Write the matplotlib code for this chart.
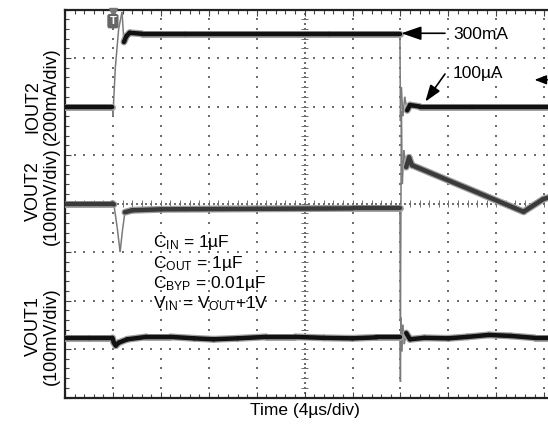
import numpy as np
import matplotlib
matplotlib.use('Agg')
import matplotlib.pyplot as plt
from matplotlib.collections import LineCollection
from matplotlib.ticker import MultipleLocator, NullFormatter

plt.rcParams['font.family'] = ['Liberation Sans', 'DejaVu Sans']
plt.rcParams['mathtext.fontset'] = 'custom'
plt.rcParams['mathtext.rm'] = 'Liberation Sans'
plt.rcParams['mathtext.it'] = 'Liberation Sans:italic'
plt.rcParams['mathtext.bf'] = 'Liberation Sans:bold'

# ---- data (screen divisions: x = time div, y = vertical div from bottom) ----
iout_t = [0.0, 0.99, 1.0, 1.05, 1.12, 1.19, 1.23, 1.28, 1.35, 1.6, 2.5, 4.0, 5.5, 6.99,
          7.0, 7.02, 7.05, 7.09, 7.14, 7.2, 7.4, 8.5, 10.08]
iout_v = [6.0, 6.0, 5.8, 6.8, 7.6, 7.95, 7.33, 7.45, 7.52, 7.5, 7.5, 7.5, 7.5, 7.5,
          5.7, 6.4, 5.8, 6.2, 5.92, 6.03, 6.0, 6.0, 6.0]

vout2_t = [0.0, 0.99, 1.02, 1.09, 1.15, 1.2, 1.25, 1.4, 2.0, 4.0, 6.0, 6.99,
           7.0, 7.02, 7.04, 7.07, 7.12, 7.18, 7.24, 9.57, 9.98, 10.08]
vout2_v = [4.0, 4.0, 3.98, 3.5, 3.0, 3.45, 3.82, 3.86, 3.88, 3.89, 3.9, 3.9,
           1.6, 5.9, 4.4, 5.1, 4.75, 4.95, 4.79, 3.83, 4.09, 4.12]

vout1_t = [0.0, 0.5, 0.99, 1.02, 1.06, 1.12, 1.3, 1.7, 2.2, 2.7, 3.1, 3.6, 4.2, 4.8,
           5.4, 6.0, 6.5, 6.99, 7.0, 7.01, 7.03, 7.05, 7.08, 7.12, 7.2, 7.5, 8.0,
           8.4, 8.85, 9.3, 9.8, 10.08]
vout1_v = [1.23, 1.23, 1.23, 1.13, 1.07, 1.13, 1.2, 1.25, 1.25, 1.22, 1.2, 1.22, 1.25, 1.25,
           1.23, 1.22, 1.24, 1.24, 0.32, 1.65, 0.95, 1.5, 1.1, 1.33, 1.2, 1.23, 1.22,
           1.25, 1.29, 1.27, 1.23, 1.23]

side_labels = [("IOUT2", "(200mA/div)"), ("VOUT2", "(100mV/div)"), ("VOUT1", "(100mV/div)")]
xlabel = "Time (4µs/div)"
cond_lines = [r"C$_{\mathrm{IN}}$ = 1µF", r"C$_{\mathrm{OUT}}$ = 1µF",
              r"C$_{\mathrm{BYP}}$ = 0.01µF", r"V$_{\mathrm{IN}}$ = V$_{\mathrm{OUT}}$+1V"]

W, H = 548, 428
fig = plt.figure(figsize=(W / 100, H / 100), dpi=100)
ax = fig.add_axes([65 / W, (H - 397.5) / H, 483 / W, 388 / H])
ax.set_xlim(0, 10.08)
ax.set_ylim(0, 8)

for s in ['top', 'left', 'bottom']:
    ax.spines[s].set_linewidth(1.6)
    ax.spines[s].set_color('#222222')
ax.spines['right'].set_visible(False)
ax.xaxis.set_major_locator(MultipleLocator(1))
ax.xaxis.set_minor_locator(MultipleLocator(0.2))
ax.yaxis.set_major_locator(MultipleLocator(1))
ax.yaxis.set_minor_locator(MultipleLocator(0.2))
ax.xaxis.set_major_formatter(NullFormatter())
ax.yaxis.set_major_formatter(NullFormatter())
ax.tick_params(which='both', direction='in', top=True, bottom=True, left=True, right=False,
               color='#444444', width=0.8)
ax.tick_params(which='major', length=4)
ax.tick_params(which='minor', length=3)

# graticule dots
gc = '#6e6e6e'
for i in range(1, 11):
    ys = np.arange(0, 8.001, 0.2)
    ax.scatter(np.full_like(ys, i), ys, s=1.6, marker='s', color=gc, lw=0, zorder=1)
for j in range(1, 8):
    xs = np.arange(0, 10.081, 0.2)
    ax.scatter(xs, np.full_like(xs, j), s=1.6, marker='s', color=gc, lw=0, zorder=1)
# centre crosshair with ticks
cy = np.arange(0, 8.001, 0.2)
ax.add_collection(LineCollection([[(4.92, y), (5.08, y)] for y in cy], colors=gc, linewidths=0.7, zorder=1))
cx = np.arange(0, 10.081, 0.2)
ax.add_collection(LineCollection([[(x, 3.92), (x, 4.08)] for x in cx], colors=gc, linewidths=0.7, zorder=1))
cyd = np.arange(0, 8.001, 0.1)
ax.scatter(np.full_like(cyd, 5), cyd, s=1.6, marker='s', color=gc, lw=0, zorder=1)
cxd = np.arange(0, 10.081, 0.1)
ax.scatter(cxd, np.full_like(cxd, 4), s=1.6, marker='s', color=gc, lw=0, zorder=1)


def draw_trace(t, v, color, lw=3.2, edge='#7a7a7a', thr=4.0):
    t = np.asarray(t, float)
    v = np.asarray(v, float)
    pts = np.column_stack([t, v])
    segs = np.stack([pts[:-1], pts[1:]], axis=1)
    slope = np.abs(np.diff(v) / np.diff(t))
    steep = slope > thr
    ax.add_collection(LineCollection(segs[steep], colors=edge, linewidths=1.1, zorder=3))
    ax.add_collection(LineCollection(segs[~steep], colors='#a0a0a0', linewidths=lw + 1.8,
                                     capstyle='round', joinstyle='round', zorder=3.5))
    ax.add_collection(LineCollection(segs[~steep], colors=color, linewidths=lw,
                                     capstyle='round', joinstyle='round', zorder=4))


draw_trace(vout1_t, vout1_v, '#111111')
draw_trace(vout2_t, vout2_v, '#3a3a3a')
draw_trace(iout_t, iout_v, '#111111')

# trigger marker
ax.plot([1.0], [7.95], marker='v', ms=6, color='#777777', clip_on=False, zorder=6)
ax.text(1.0, 7.76, 'T', ha='center', va='center', color='white', fontsize=8, fontweight='bold',
        zorder=7, bbox=dict(boxstyle='round,pad=0.2', fc='#666666', ec='none'))

# annotations
fs = 12.5
ax.annotate('', xy=(7.02, 7.51), xytext=(7.93, 7.51),
            arrowprops=dict(arrowstyle='-|>,head_length=1.1,head_width=0.38', color='black',
                            lw=1.2, mutation_scale=11, shrinkA=0, shrinkB=0), zorder=8)
ax.text(8.1, 7.39, '300mA', fontsize=fs, va='baseline', ha='left', zorder=8)
ax.annotate('', xy=(7.52, 6.10), xytext=(7.93, 6.67),
            arrowprops=dict(arrowstyle='-|>,head_length=1.0,head_width=0.35', color='black',
                            lw=1.2, mutation_scale=10, shrinkA=0, shrinkB=0), zorder=8)
ax.text(8.08, 6.58, '100µA', fontsize=fs, va='baseline', ha='left', zorder=8)
ax.annotate('', xy=(9.8, 6.55), xytext=(10.08, 6.55),
            arrowprops=dict(arrowstyle='-|>,head_length=0.9,head_width=0.35', color='black',
                            lw=1.0, mutation_scale=8, shrinkA=0, shrinkB=0), zorder=8)

for k, (line, yb) in enumerate(zip(cond_lines, [3.11, 2.68, 2.26, 1.84])):
    ax.text(1.84, yb, line, fontsize=fs, va='baseline', ha='left', zorder=8)

# side labels
centers = [((33, 107), (51.5, 96)), ((33, 191), (51.5, 196)), ((33, 326), (51.5, 336))]
for (name, unit), ((x1, y1), (x2, y2)) in zip(side_labels, centers):
    fig.text(x1 / W, 1 - y1 / H, name, rotation=90, ha='center', va='center', fontsize=13)
    fig.text(x2 / W, 1 - y2 / H, unit, rotation=90, ha='center', va='center', fontsize=13)

fig.text(304.5 / W, 1 - 411 / H, xlabel, ha='center', va='center', fontsize=fs)

fig.savefig('out.png', dpi=100)
